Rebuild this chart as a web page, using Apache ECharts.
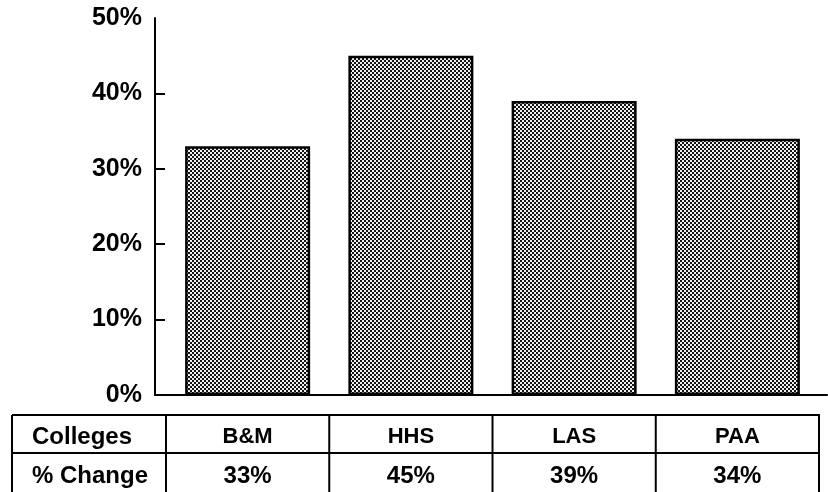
<!DOCTYPE html>
<html><head><meta charset="utf-8">
<script src="https://cdn.jsdelivr.net/npm/echarts@6/dist/echarts.min.js"></script>
<style>html,body{margin:0;padding:0;background:#fff}#c{width:828px;height:492px}</style>
</head><body><div id="c"></div>
<script>
// ---- data ----
const categories = ['B&M', 'HHS', 'LAS', 'PAA'];
const pctChange = [33, 45, 39, 34];
const yTickValues = [10, 20, 30, 40];
const rowLabels = ['Colleges', '% Change'];

// ---- pattern fill (fine checker halftone) ----
const pc = document.createElement('canvas');
pc.width = 4; pc.height = 4;
const g = pc.getContext('2d');
g.fillStyle = '#f0f0f0'; g.fillRect(0, 0, 4, 4);
g.fillStyle = '#141414'; g.fillRect(0, 0, 2, 2); g.fillRect(2, 2, 2, 2);

const FONT = '"Liberation Sans", Arial, sans-serif';
const L = 166, R = 9, T = 18, B = 97;
const W = 828 - L - R;
const tTop = 415, tMid = 453, tBot = 492, tLeft = 12, tRight = L + W;

const graphics = [];
[tTop, tMid].forEach(y => graphics.push({type: 'line', shape: {x1: tLeft, y1: y, x2: tRight + 1, y2: y}, style: {stroke: '#000', lineWidth: 2}}));
const vx = [tLeft];
for (let i = 0; i <= categories.length; i++) vx.push(L + i * W / categories.length);
vx.forEach(x => graphics.push({type: 'line', shape: {x1: x, y1: tTop, x2: x, y2: tBot}, style: {stroke: '#000', lineWidth: 2}}));
rowLabels.forEach((t, i) => graphics.push({
  type: 'text', x: 32, y: i === 0 ? 437 : 476,
  style: {text: t, font: 'bold 24px ' + FONT, fill: '#000', textVerticalAlign: 'middle', textAlign: 'left'}
}));

const chart = echarts.init(document.getElementById('c'), null, {renderer: 'canvas'});
chart.setOption({
  animation: false,
  backgroundColor: '#fff',
  grid: [
    {left: L, right: R, top: T, bottom: B},
    {left: 155, right: 1, top: T, bottom: B}
  ],
  xAxis: [
    {gridIndex: 0, type: 'category', data: categories, position: 'bottom',
     axisLine: {show: false}, axisTick: {show: false},
     axisLabel: {margin: 42, verticalAlign: 'middle', color: '#000', fontFamily: FONT, fontWeight: 'bold', fontSize: 22}},
    {gridIndex: 0, type: 'category', data: pctChange.map(v => v + '%'), position: 'bottom', offset: 0,
     axisLine: {show: false}, axisTick: {show: false},
     axisLabel: {margin: 81, verticalAlign: 'middle', color: '#000', fontFamily: FONT, fontWeight: 'bold', fontSize: 24}},
    {gridIndex: 1, type: 'value', min: 0, max: 1, position: 'bottom',
     axisLine: {show: true, lineStyle: {color: '#000', width: 2}}, axisTick: {show: false},
     axisLabel: {show: false}, splitLine: {show: false}}
  ],
  yAxis: [
    {gridIndex: 0, type: 'value', min: 0, max: 50, interval: 10, offset: 11,
     axisLine: {show: true, lineStyle: {color: '#000', width: 2}},
     axisTick: {show: true, inside: true, length: 10, customValues: yTickValues, lineStyle: {color: '#000', width: 2}},
     axisLabel: {formatter: '{value}%', margin: 13, color: '#000', fontFamily: FONT, fontWeight: 'bold', fontSize: 25},
     splitLine: {show: false}},
    {gridIndex: 1, type: 'value', show: false, min: 0, max: 50}
  ],
  series: [{
    type: 'bar', xAxisIndex: 0, yAxisIndex: 0, data: pctChange, barWidth: 125, silent: true,
    itemStyle: {color: {image: pc, repeat: 'repeat'}, borderColor: '#000', borderWidth: 2.5}
  }],
  graphic: graphics
});
</script>
</body></html>
